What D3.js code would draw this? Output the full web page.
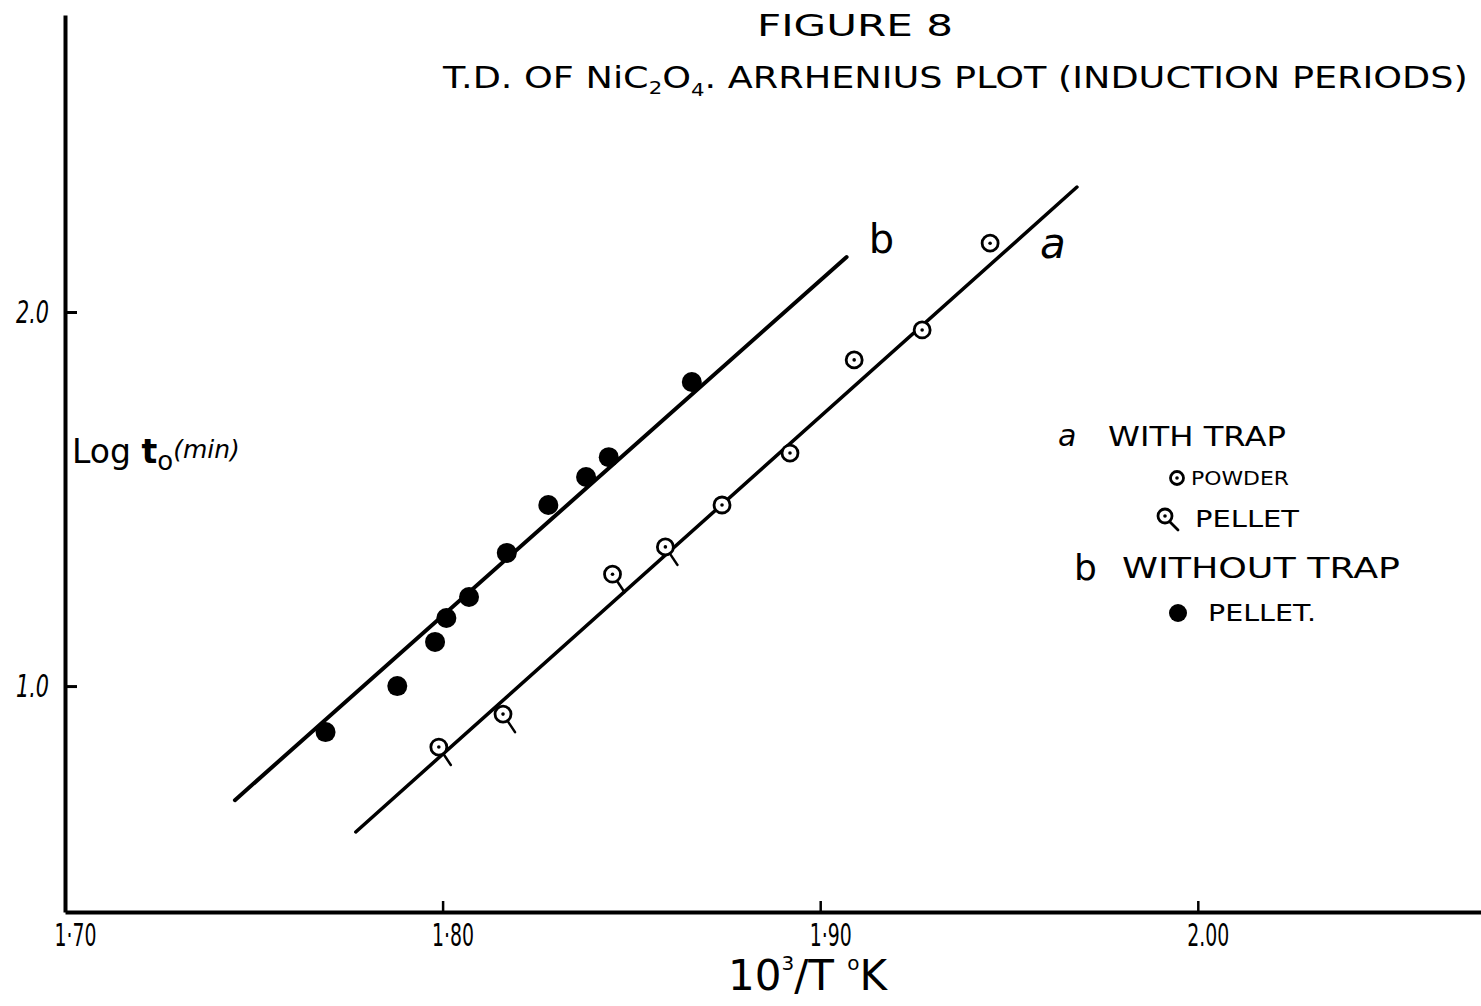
<!DOCTYPE html>
<html>
<head>
<meta charset="utf-8">
<script src="https://cdn.jsdelivr.net/npm/d3@7"></script>
<style>
  html, body { margin: 0; padding: 0; background: #fff; }
  svg { display: block; }
  text { font-family: "DejaVu Sans", "Liberation Sans", sans-serif; fill: #000; }
</style>
</head>
<body>
<svg id="chart" width="1481" height="1006"></svg>
<script>
// ---- data ----
const xTicks = [1.70, 1.80, 1.90, 2.00];
const xTickLabels = ["1·70", "1·80", "1·90", "2.00"];
const yTicks = [1.0, 2.0];
const yTickLabels = ["1.0", "2.0"];

// series b : without trap, pellet (filled)
const bX = [1.769, 1.788, 1.798, 1.801, 1.807, 1.817, 1.828, 1.838, 1.844, 1.866];
const bY = [0.877, 1.000, 1.118, 1.182, 1.238, 1.356, 1.484, 1.559, 1.612, 1.813];

// series a : with trap, pellet (circle with tail)
const aPelletX = [1.799, 1.816, 1.845, 1.859];
const aPelletY = [0.837, 0.925, 1.299, 1.372];

// series a : with trap, powder (circle with dot)
const aPowderX = [1.874, 1.892, 1.909, 1.927, 1.945];
const aPowderY = [1.484, 1.623, 1.872, 1.952, 2.184];

// fitted lines (end points)
const lineB = [[1.745, 0.695], [1.907, 2.147]];
const lineA = [[1.777, 0.610], [1.968, 2.334]];

// ---- drawing ----
const svg = d3.select("#chart");
const x = d3.scaleLinear().domain([1.70, 2.075]).range([65, 1481]);
const y = d3.scaleLinear().domain([0.396, 2.794]).range([912, 15]);

// axes
const xAxis = d3.axisBottom(x)
  .tickValues(xTicks)
  .tickFormat((d, i) => xTickLabels[i])
  .tickSizeInner(-11).tickSizeOuter(0).tickPadding(11);
const gx = svg.append("g").attr("transform", `translate(0,${y.range()[0]})`).call(xAxis);
gx.select(".domain").attr("stroke", "#000").attr("stroke-width", 4);
gx.selectAll(".tick line").attr("stroke", "#000").attr("stroke-width", 2.5);
gx.selectAll(".tick text").attr("font-size", 32).attr("fill", "#000")
  .attr("dx", 10).attr("font-family", "DejaVu Sans Condensed, DejaVu Sans, sans-serif")
  .attr("textLength", 42).attr("lengthAdjust", "spacingAndGlyphs");

const yAxis = d3.axisLeft(y)
  .tickValues(yTicks)
  .tickFormat((d, i) => yTickLabels[i])
  .tickSizeInner(-12).tickSizeOuter(0).tickPadding(16);
const gy = svg.append("g").attr("transform", `translate(${x.range()[0]},0)`).call(yAxis);
gy.select(".domain").attr("stroke", "#000").attr("stroke-width", 4);
gy.selectAll(".tick line").attr("stroke", "#000").attr("stroke-width", 3);
gy.selectAll(".tick text").attr("font-size", 32).attr("fill", "#000").attr("font-style", "italic")
  .attr("font-family", "DejaVu Sans Condensed, DejaVu Sans, sans-serif")
  .attr("textLength", 33).attr("lengthAdjust", "spacingAndGlyphs");

// fitted lines
const line = d3.line().x(d => x(d[0])).y(d => y(d[1]));
svg.append("path").datum(lineB).attr("d", line)
  .attr("stroke", "#000").attr("stroke-width", 4).attr("fill", "none").attr("stroke-linecap", "round");
svg.append("path").datum(lineA).attr("d", line)
  .attr("stroke", "#000").attr("stroke-width", 3.5).attr("fill", "none").attr("stroke-linecap", "round");

// filled points (b)
svg.append("g").selectAll("circle").data(d3.zip(bX, bY)).join("circle")
  .attr("cx", d => x(d[0])).attr("cy", d => y(d[1])).attr("r", 10).attr("fill", "#000");

// powder points
function powder(g, cx, cy, r = 8) {
  g.append("circle").attr("cx", cx).attr("cy", cy).attr("r", r)
    .attr("fill", "#fff").attr("stroke", "#000").attr("stroke-width", 2.8);
  g.append("circle").attr("cx", cx).attr("cy", cy).attr("r", 1.8).attr("fill", "#000");
}
const gPow = svg.append("g");
d3.zip(aPowderX, aPowderY).forEach(d => powder(gPow, x(d[0]), y(d[1])));

// pellet points (circle with tail)
const gPel = svg.append("g");
d3.zip(aPelletX, aPelletY).forEach(d => {
  const cx = x(d[0]), cy = y(d[1]);
  gPel.append("line").attr("x1", cx + 4).attr("y1", cy + 6).attr("x2", cx + 12).attr("y2", cy + 18)
    .attr("stroke", "#000").attr("stroke-width", 2.5).attr("stroke-linecap", "round");
  powder(gPel, cx, cy);
});

// line labels
svg.append("text").attr("x", x(1.907) + 22).attr("y", 253).attr("font-size", 40)
  .attr("font-family", "DejaVu Sans, sans-serif").text("b");
svg.append("text").attr("x", 1040).attr("y", 258).attr("font-size", 42)
  .attr("font-style", "italic").attr("font-family", "DejaVu Serif, serif").text("a");

// title
svg.append("text").attr("x", 855).attr("y", 36).attr("text-anchor", "middle")
  .attr("font-size", 30).attr("textLength", 196).attr("lengthAdjust", "spacingAndGlyphs")
  .text("FIGURE 8");
const t2 = svg.append("text").attr("x", 443).attr("y", 88).attr("font-size", 31);
t2.append("tspan").text("T.D. OF NiC");
t2.append("tspan").attr("font-size", 18).attr("dy", 6).text("2");
t2.append("tspan").attr("dy", -6).text("O");
t2.append("tspan").attr("font-size", 18).attr("dy", 8).text("4");
t2.append("tspan").attr("dy", -8).text(". ARRHENIUS PLOT (INDUCTION PERIODS)");
const t2w = t2.node().getComputedTextLength();
t2.attr("transform", `translate(443,0) scale(${1025 / t2w},1) translate(-443,0)`);

// y-axis title
const yl = svg.append("text").attr("x", 72).attr("y", 463).attr("font-size", 33);
yl.append("tspan").text("Log ");
yl.append("tspan").attr("font-weight", "bold").text("t");
yl.append("tspan").attr("font-size", 26).attr("dy", 7).text("o");
yl.append("tspan").attr("font-size", 25).attr("dy", -12).attr("font-style", "italic").text("(min)");

// x-axis title
const xl = svg.append("text").attr("x", 728).attr("y", 990).attr("font-size", 42);
xl.append("tspan").text("10");
xl.append("tspan").attr("font-size", 20).attr("dy", -20).text("3");
xl.append("tspan").attr("dy", 20).text("/T ");
xl.append("tspan").attr("font-size", 20).attr("dy", -20).text("o");
xl.append("tspan").attr("dy", 20).text("K");

// legend
svg.append("text").attr("x", 1058).attr("y", 446).attr("font-size", 30).attr("font-style", "italic")
  .attr("font-family", "DejaVu Serif, serif").text("a");
svg.append("text").attr("x", 1108).attr("y", 446).attr("font-size", 26)
  .attr("textLength", 178).attr("lengthAdjust", "spacingAndGlyphs").text("WITH TRAP");
powder(svg.append("g"), 1177, 478, 6.5);
svg.append("text").attr("x", 1191).attr("y", 485).attr("font-size", 19)
  .attr("textLength", 98).attr("lengthAdjust", "spacingAndGlyphs").text("POWDER");
{
  const g = svg.append("g");
  g.append("line").attr("x1", 1170).attr("y1", 522).attr("x2", 1178).attr("y2", 530)
    .attr("stroke", "#000").attr("stroke-width", 2.8).attr("stroke-linecap", "round");
  powder(g, 1165, 516, 7);
}
svg.append("text").attr("x", 1195).attr("y", 527).attr("font-size", 23)
  .attr("textLength", 104).attr("lengthAdjust", "spacingAndGlyphs").text("PELLET");
svg.append("text").attr("x", 1074).attr("y", 580).attr("font-size", 36)
  .attr("font-family", "DejaVu Sans, sans-serif").text("b");
svg.append("text").attr("x", 1122).attr("y", 578).attr("font-size", 28)
  .attr("textLength", 278).attr("lengthAdjust", "spacingAndGlyphs").text("WITHOUT TRAP");
svg.append("circle").attr("cx", 1178).attr("cy", 613).attr("r", 9).attr("fill", "#000");
svg.append("text").attr("x", 1208).attr("y", 621).attr("font-size", 23)
  .attr("textLength", 108).attr("lengthAdjust", "spacingAndGlyphs").text("PELLET.");
</script>
</body>
</html>
